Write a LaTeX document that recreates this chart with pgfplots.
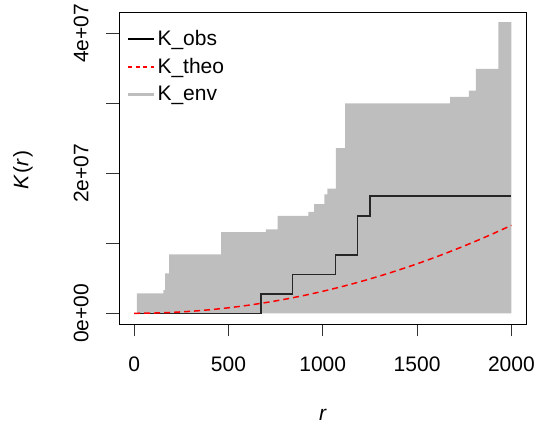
\documentclass[border=0pt]{standalone}
\usepackage{fontspec}
\setmainfont{Liberation Sans}
\usepackage{pgfplots}
\pgfplotsset{compat=1.18}
\definecolor{envgrey}{HTML}{BEBEBE}
\begin{document}
\begin{tikzpicture}[x=1pt,y=1pt]
\useasboundingbox (0,0) rectangle (540,430);
\begin{axis}[
  at={(119pt,106pt)}, anchor=south west,
  scale only axis, width=407.5pt, height=312pt,
  xmin=-80, xmax=2080, ymin=-0.153e7, ymax=4.304e7,
  axis line style={line width=0.8pt},
  tick style={black!80, line width=0.8pt},
  tick align=outside, major tick length=12.5pt,
  xtick={0,500,1000,1500,2000}, xticklabels={0,500,1000,1500,2000},
  ytick={0,1e7,2e7,3e7,4e7}, yticklabels={0e+00,,2e+07,,4e+07},
  scaled y ticks=false, scaled x ticks=false,
  xtick pos=bottom, ytick pos=left,
  ticklabel style={font=\fontsize{21}{24}\selectfont},
  xticklabel style={anchor=north, inner xsep=0pt, inner ysep=0pt, text depth=0pt, yshift=-20pt},
  yticklabel style={rotate=90, anchor=south, inner xsep=0pt, inner ysep=18pt, text depth=0pt},
  legend style={draw=none, fill=none, at={(rel axis cs:0,1)}, anchor=north west,
    xshift=7.7pt, yshift=-16.3pt, inner sep=0pt, row sep=7.1pt,
    font=\fontsize{21}{24}\selectfont},
  legend cell align=left,
  legend image code/.code={\draw[#1] (0pt,0pt) -- (22.3pt,0pt); \path (0pt,0pt) -- (25.6pt,0pt);},
]
% envelope (upper bound, lower bound at 0)
\addplot[const plot, fill=envgrey, draw=none, forget plot] coordinates {
  (0,0) (15,2.86e6) (155,3.3e6) (165,5.7e6) (186,8.4e6) (461,11.6e6)
  (698,12.0e6) (761,13.9e6) (924,14.5e6) (954,15.6e6) (1009,17.0e6)
  (1024,17.8e6) (1070,23.6e6) (1118,30.0e6) (1675,30.9e6) (1775,31.8e6)
  (1812,34.9e6) (1931,41.6e6) (2000,41.6e6) (2000,0)
} -- cycle;
% observed
\addplot[const plot, draw=black!85, line width=1.4pt, forget plot] coordinates {
  (0,0) (673,2.76e6) (839,5.57e6) (1069,8.33e6) (1185,13.9e6) (1251,16.76e6) (2000,16.76e6)
};
% theoretical
\addplot[smooth, draw=red, line width=1.5pt, dash pattern=on 6pt off 4pt, forget plot] coordinates {
  (0,0) (100,31416) (200,125664) (300,282743) (400,502655) (500,785398)
  (600,1130973) (700,1539380) (800,2010619) (900,2544690) (1000,3141593)
  (1100,3801327) (1200,4523893) (1300,5309292) (1400,6157522) (1500,7068583)
  (1600,8042477) (1700,9079203) (1800,10178760) (1900,11341149) (2000,12566371)
};
\addlegendimage{draw=black, line width=2pt}
\addlegendentry{K\_obs}
\addlegendimage{draw=red, line width=2pt, dash pattern=on 4pt off 3.5pt}
\addlegendentry{K\_theo}
\addlegendimage{draw=envgrey, line width=3pt}
\addlegendentry{K\_env}
\end{axis}
\node[rotate=90, font=\fontsize{21}{24}\selectfont] at (23,260) {\textit{K}\kern1pt(\textit{r}\kern2pt)};
\node[font=\fontsize{21}{24}\selectfont] at (323,15) {\textit{r}};
\end{tikzpicture}
\end{document}
